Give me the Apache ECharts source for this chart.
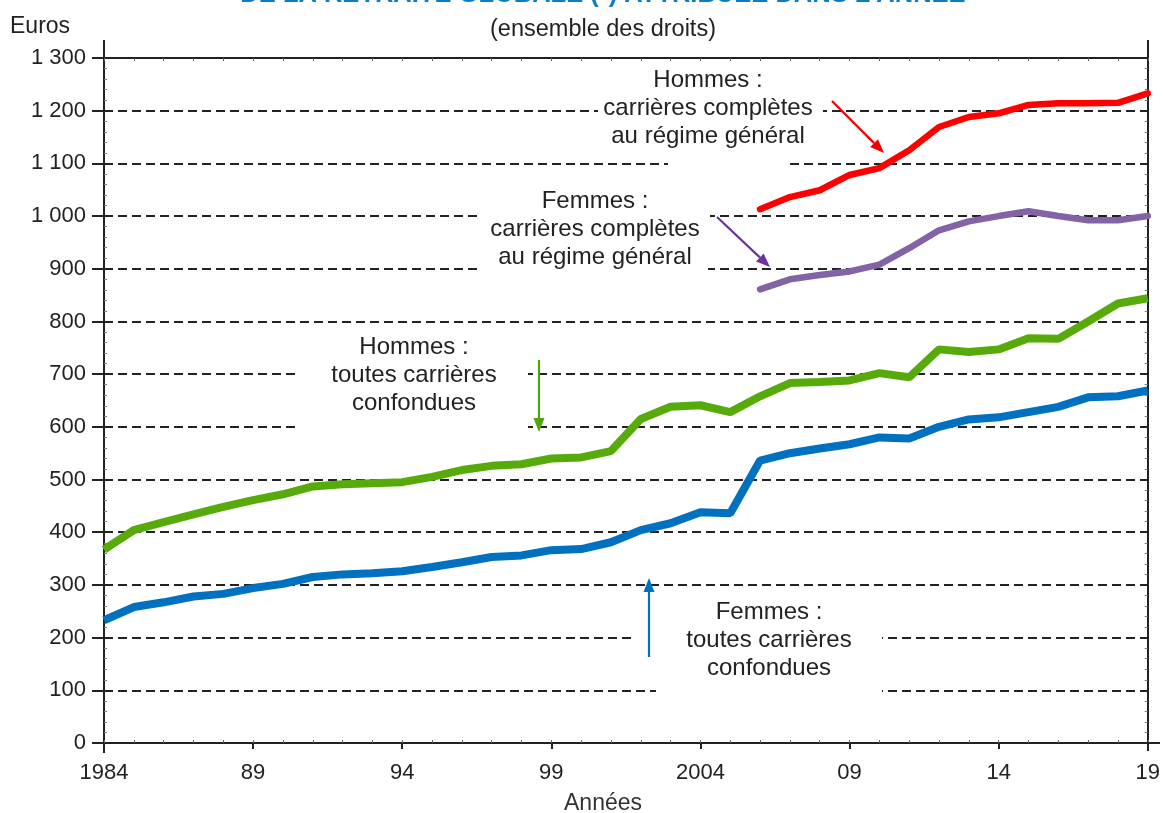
<!DOCTYPE html>
<html>
<head>
<meta charset="utf-8">
<script src="https://cdn.jsdelivr.net/npm/echarts@6/dist/echarts.min.js"></script>
<style>
html,body{margin:0;padding:0;background:#fff;}
#chart{width:1163px;height:813px;}
</style>
</head>
<body>
<div id="chart"></div>
<script>
// ---- data ----
const years = [];
for (let y = 1984; y <= 2019; y++) years.push(String(y));

const xTickLabels = ['1984', '89', '94', '99', '2004', '09', '14', '19'];
const yTickLabels = ['0', '100', '200', '300', '400', '500', '600', '700', '800', '900', '1 000', '1 100', '1 200', '1 300'];

// Hommes : toutes carrières confondues (1984-2019)
const hommesToutes = [367, 404, 419, 434, 448, 461, 472, 487, 491, 493, 495, 505, 518, 526, 529, 540, 542, 554, 615, 638, 641, 628, 658, 683, 685, 688, 702, 694, 747, 742, 747, 768, 767, 800, 834, 844];
// Femmes : toutes carrières confondues (1984-2019)
const femmesToutes = [233, 258, 267, 278, 283, 294, 302, 315, 320, 322, 326, 334, 343, 353, 356, 366, 368, 381, 404, 417, 438, 436, 536, 550, 559, 567, 580, 578, 600, 614, 618, 628, 638, 656, 658, 669];
// Hommes : carrières complètes au régime général (2006-2019)
const hommesCompletes = [1013, 1036, 1049, 1078, 1091, 1125, 1169, 1188, 1195, 1211, 1214, 1214, 1215, 1233];
// Femmes : carrières complètes au régime général (2006-2019)
const femmesCompletes = [861, 880, 888, 895, 908, 939, 973, 990, 1000, 1009, 1000, 992, 992, 1000];
const completesStartYear = 2006;

function padSeries(arr, startYear) {
  const out = years.map(() => null);
  arr.forEach((v, i) => { out[Number(startYear) - 1984 + i] = v; });
  return out;
}

const FONT = "'Liberation Sans', Arial, sans-serif";
const TXT = '#222';

const chart = echarts.init(document.getElementById('chart'), null, {renderer: 'canvas'});

function arrow(x1, y1, x2, y2, color) {
  const dx = x2 - x1, dy = y2 - y1;
  const L = Math.sqrt(dx * dx + dy * dy);
  const ux = dx / L, uy = dy / L;
  const hl = 14, hw = 5.5;
  const bx = x2 - ux * hl, by = y2 - uy * hl;
  const px = -uy * hw, py = ux * hw;
  return [
    {type: 'line', z: 5, shape: {x1: x1, y1: y1, x2: bx, y2: by}, style: {stroke: color, lineWidth: 2.2}},
    {type: 'polygon', z: 5, shape: {points: [[x2, y2], [bx + px, by + py], [bx - px, by - py]]}, style: {fill: color}}
  ];
}

function textBlock(cx, cy, lines) {
  return lines.map((t, i) => ({
    type: 'text', z: 5, x: cx, y: cy + i * 28,
    style: {text: t, font: '24px ' + FONT, fill: TXT, align: 'center', verticalAlign: 'middle'}
  }));
}

function whiteRect(x1, x2, yc) {
  return {type: 'rect', z: 1, shape: {x: x1, y: yc - 4, width: x2 - x1, height: 8}, style: {fill: '#fff'}};
}

function vline(x, y1, y2, w) {
  return {type: 'line', z: 4, shape: {x1: x, y1: y1, x2: x, y2: y2}, style: {stroke: '#222', lineWidth: w || 2}};
}

const graphics = [
  // partially visible title
  {type: 'text', z: 5, x: 603, y: -5,
   style: {text: "DE LA RETRAITE GLOBALE (*) ATTRIBUÉE DANS L'ANNÉE", font: 'bold 25.5px ' + FONT, fill: '#0a7cc8', align: 'center', verticalAlign: 'middle'}},
  {type: 'text', z: 5, x: 603, y: 30,
   style: {text: '(ensemble des droits)', font: '23.5px ' + FONT, fill: TXT, align: 'center', verticalAlign: 'middle'}},
  {type: 'text', z: 5, x: 10, y: 27,
   style: {text: 'Euros', font: '23px ' + FONT, fill: TXT, align: 'left', verticalAlign: 'middle'}},
  {type: 'text', z: 5, x: 603, y: 804,
   style: {text: 'Années', font: '23px ' + FONT, fill: '#333', align: 'center', verticalAlign: 'middle'}},
  // gaps in grid lines behind labels
  whiteRect(598, 823, 110),
  whiteRect(668, 787, 163),
  whiteRect(482, 710, 216),
  whiteRect(482, 708, 269),
  whiteRect(300, 528, 374),
  whiteRect(300, 528, 426),
  whiteRect(636, 882, 638),
  whiteRect(656, 882, 690),
  // axis extensions
  vline(104, 40, 58), vline(1148, 40, 58),
  vline(104, 743, 753), vline(1148, 743, 751),
  {type: 'line', z: 4, shape: {x1: 1148, y1: 743, x2: 1160, y2: 743}, style: {stroke: '#222', lineWidth: 2}}
]
.concat(textBlock(708, 80, ['Hommes :', 'carrières complètes', 'au régime général']))
.concat(textBlock(595, 201, ['Femmes :', 'carrières complètes', 'au régime général']))
.concat(textBlock(414, 347, ['Hommes :', 'toutes carrières', 'confondues']))
.concat(textBlock(769, 612, ['Femmes :', 'toutes carrières', 'confondues']))
.concat(arrow(832, 101, 884, 153, '#f00000'))
.concat(arrow(717, 217, 770, 267, '#7030a0'))
.concat(arrow(539, 360, 539, 432, '#4ea60a'))
.concat(arrow(649, 657, 649, 578, '#0070c0'));

const option = {
  animation: false,
  backgroundColor: '#fff',
  grid: {left: 104, right: 15, top: 58, bottom: 70, containLabel: false},
  xAxis: [
    {
      type: 'category', data: years, boundaryGap: false, position: 'bottom',
      axisLine: {show: true, onZero: false, lineStyle: {color: '#222', width: 2}},
      axisTick: {show: true, interval: 4, length: 6, lineStyle: {color: '#222', width: 2}},
      axisLabel: {interval: 4, margin: 19, color: TXT, fontSize: 22, fontFamily: FONT,
        formatter: (v, i) => xTickLabels[i / 5]},
      splitLine: {show: false}
    },
    {
      type: 'category', data: years, boundaryGap: false, position: 'bottom',
      axisLine: {show: false, onZero: false},
      axisTick: {show: true, interval: 0, inside: true, length: 3, lineStyle: {color: '#666', width: 1}},
      axisLabel: {show: false}, splitLine: {show: false}
    },
    {
      type: 'category', data: years, boundaryGap: false, position: 'top',
      axisLine: {show: true, onZero: false, lineStyle: {color: '#222', width: 2}},
      axisTick: {show: true, interval: 0, inside: true, length: 3, lineStyle: {color: '#666', width: 1}},
      axisLabel: {show: false}, splitLine: {show: false}
    }
  ],
  yAxis: [
    {
      type: 'value', min: 0, max: 1300, interval: 100, position: 'left',
      axisLine: {show: true, onZero: false, lineStyle: {color: '#222', width: 2}},
      axisTick: {show: true, length: 12, lineStyle: {color: '#222', width: 2}},
      axisLabel: {margin: 18, color: TXT, fontSize: 22, fontFamily: FONT,
        formatter: (v) => yTickLabels[Math.round(v / 100)]},
      splitLine: {show: true, lineStyle: {color: '#222', width: 2, type: [9, 5]}}
    },
    {
      type: 'value', min: 0, max: 1300, interval: 100, position: 'left',
      axisLine: {show: false, onZero: false},
      axisTick: {show: false, inside: true},
      minorTick: {show: true, splitNumber: 5, length: 3, lineStyle: {color: '#777', width: 1}},
      axisLabel: {show: false}, splitLine: {show: false}
    },
    {
      type: 'value', min: 0, max: 1300, interval: 100, position: 'right',
      axisLine: {show: true, onZero: false, lineStyle: {color: '#222', width: 2}},
      axisTick: {show: false, inside: true},
      minorTick: {show: true, splitNumber: 5, length: 3, lineStyle: {color: '#777', width: 1}},
      axisLabel: {show: false}, splitLine: {show: false}
    }
  ],
  series: [
    {name: 'Hommes : toutes carrières confondues', type: 'line', data: hommesToutes, symbol: 'none', z: 3,
     lineStyle: {color: '#56ab0a', width: 8}},
    {name: 'Femmes : toutes carrières confondues', type: 'line', data: femmesToutes, symbol: 'none', z: 3,
     lineStyle: {color: '#0070c0', width: 8}},
    {name: 'Hommes : carrières complètes au régime général', type: 'line', data: padSeries(hommesCompletes, completesStartYear), symbol: 'none', z: 3,
     lineStyle: {color: '#ff0000', width: 6.5, cap: 'round'}},
    {name: 'Femmes : carrières complètes au régime général', type: 'line', data: padSeries(femmesCompletes, completesStartYear), symbol: 'none', z: 3,
     lineStyle: {color: '#8462a6', width: 6.5, cap: 'round'}}
  ],
  graphic: {elements: graphics}
};

chart.setOption(option);
</script>
</body>
</html>
